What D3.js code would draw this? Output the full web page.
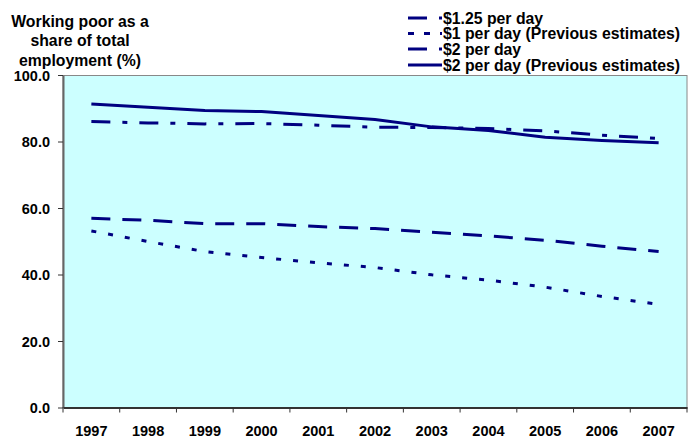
<!DOCTYPE html>
<html><head><meta charset="utf-8">
<script src="https://cdn.jsdelivr.net/npm/d3@7"></script>
<style>
body{margin:0;background:#fff;}
text{font-family:"Liberation Sans",Arial,sans-serif;font-weight:bold;fill:#000;}
</style></head>
<body><svg id="c" width="688" height="439"></svg>
<script>
const years = ["1997","1998","1999","2000","2001","2002","2003","2004","2005","2006","2007"];
const s125 = [86.0,85.6,85.3,85.4,84.9,84.3,84.2,83.9,83.2,81.9,80.9];
const s1prev = [53.1,49.9,46.9,45.1,43.5,42.1,39.9,38.3,36.2,33.4,31.0];
const s2 = [56.9,56.3,55.3,55.3,54.4,53.8,52.7,51.6,50.3,48.5,46.9];
const s2prev = [91.3,90.3,89.3,89.0,87.8,86.6,84.4,83.3,81.3,80.3,79.6];
const yTicks = [0,20,40,60,80,100];
const seriesNames = ["$1.25 per day","$1 per day (Previous estimates)","$2 per day","$2 per day (Previous estimates)"];
const dashes = ["19,12,5,12","5,12","19,12",null];
const seriesVals = [s125, s1prev, s2, s2prev];

const svg = d3.select("#c");
const L=63, R=687, T=75.5, B=407.5;
const x = d3.scaleBand().domain(years).range([L,R]).padding(0);
const y = d3.scaleLinear().domain([0,100]).range([B,75]);
const col = "#000080";

svg.append("rect").attr("x",L).attr("y",T).attr("width",R-L).attr("height",B-T)
  .attr("fill","#CCFFFF").attr("stroke","#888").attr("stroke-width",1);

// y axis
const ya = svg.append("g").attr("transform",`translate(${L},0)`)
  .call(d3.axisLeft(y).tickValues(yTicks).tickFormat(d3.format(".1f")).tickSize(5).tickSizeOuter(0));
ya.select(".domain").attr("stroke","#666").attr("stroke-width",2);
ya.selectAll(".tick line").attr("stroke","#333");
ya.selectAll("text").attr("font-size",14.5).attr("font-family","Liberation Sans, Arial").attr("font-weight","bold").attr("x",-13).attr("dy","0.35em");

// x axis
const xa = svg.append("g").attr("transform",`translate(0,${B})`)
  .call(d3.axisBottom(x).tickSize(0).tickSizeOuter(0));
xa.select(".domain").attr("stroke","#333").attr("stroke-width",2);
xa.selectAll("text").attr("font-size",14.5).attr("font-family","Liberation Sans, Arial").attr("font-weight","bold").attr("y",23.5).attr("dy","0.35em");
const bounds = years.map(d=>x(d)).concat([x(years[years.length-1])+x.bandwidth()]);
svg.append("g").selectAll("line").data(bounds).join("line")
  .attr("x1",d=>d).attr("x2",d=>d).attr("y1",B).attr("y2",B+5).attr("stroke","#333");

// lines
const line = d3.line().x((d,i)=>x(years[i])+x.bandwidth()/2).y(d=>y(d));
seriesVals.forEach((vals,k)=>{
  svg.append("path").datum(vals).attr("d",line).attr("fill","none")
    .attr("stroke",col).attr("stroke-width",3)
    .attr("stroke-dasharray",dashes[k]);
});

// y title
const tl = ["Working poor as a","share of total","employment (%)"];
svg.append("g").selectAll("text").data(tl).join("text")
  .attr("x",80).attr("y",(d,i)=>21+i*19.5).attr("dy","0.35em").attr("text-anchor","middle")
  .attr("font-size",15.8).text(d=>d);

// legend
const lg = svg.append("g");
const rows = [18,33.5,49,65];
const legDash = ["19,12,5,12","6,10","19,12,5,12",null];
seriesNames.forEach((n,k)=>{
  lg.append("line").attr("x1",408).attr("x2",442).attr("y1",rows[k]).attr("y2",rows[k])
    .attr("stroke",col).attr("stroke-width",3).attr("stroke-dasharray",legDash[k]);
  lg.append("text").attr("x",443).attr("y",rows[k]).attr("dy","0.35em")
    .attr("font-size",15.8).text(n);
});
</script></body></html>
